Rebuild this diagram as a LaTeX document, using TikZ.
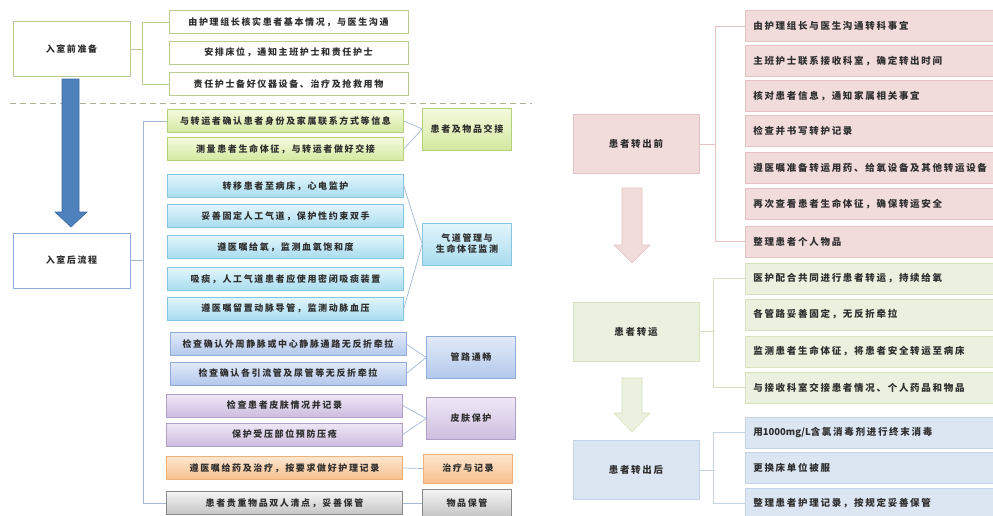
\documentclass[tikz,border=0pt]{standalone}
\usepackage{fontspec}
\newfontfamily\cjk[LetterSpace=18]{Noto Sans CJK SC}
\newfontfamily\cjkn{Noto Sans CJK SC}

% цвета
\definecolor{txtgray}{HTML}{2E2E2E}
\definecolor{olivebd}{HTML}{B9CD93}
\definecolor{dashgray}{HTML}{A9B59A}
\definecolor{arrowblue}{HTML}{4F81BD}
\definecolor{arrowbd}{HTML}{3C6AA5}
\definecolor{postbd}{HTML}{8EAAD6}
\definecolor{linkblue}{HTML}{A4B8D6}
\definecolor{pinkfill}{HTML}{F2DCDB}
\definecolor{pinkbd}{HTML}{E5C3C2}
\definecolor{greenfill}{HTML}{EBF1DE}
\definecolor{greenbd}{HTML}{D6E2BD}
\definecolor{bluefill}{HTML}{DCE6F2}
\definecolor{bluebd}{HTML}{C3D3E8}
\definecolor{gAbd}{HTML}{B5D07C}
\definecolor{gAtop}{HTML}{F4FADF}
\definecolor{gAbot}{HTML}{D4E9A0}
\definecolor{gBbd}{HTML}{86C5DD}
\definecolor{gBtop}{HTML}{E3F5FC}
\definecolor{gBbot}{HTML}{A8DCEF}
\definecolor{gCbd}{HTML}{92ACD9}
\definecolor{gCtop}{HTML}{E2EAF8}
\definecolor{gCbot}{HTML}{B3C8EC}
\definecolor{gDbd}{HTML}{B09FC8}
\definecolor{gDtop}{HTML}{EFE7F5}
\definecolor{gDbot}{HTML}{CDBDE0}
\definecolor{gEbd}{HTML}{F0B07A}
\definecolor{gEtop}{HTML}{FDE6CF}
\definecolor{gEbot}{HTML}{F8C08E}
\definecolor{gFbd}{HTML}{8A8A8A}
\definecolor{gFtop}{HTML}{F5F5F5}
\definecolor{gFbot}{HTML}{C4C4C4}

\tikzset{
  txt/.style={font=\cjk\bfseries\fontsize{9}{11}\selectfont, text=txtgray},
  bigbox/.style={txt, fill=white, line width=0.9pt, minimum width=117pt, minimum height=55pt, inner sep=0pt},
  prebox/.style={txt, draw=olivebd, fill=white, line width=0.9pt, minimum width=239pt, minimum height=23pt, inner sep=0pt},
  item/.style={txt, line width=0.6pt, minimum width=236pt, minimum height=23pt, inner sep=0pt},
  cat/.style={txt, line width=0.6pt, minimum width=89pt, minimum height=42pt, inner sep=0pt, align=center},
  grpA/.style={draw=gAbd, top color=gAtop, bottom color=gAbot},
  grpB/.style={draw=gBbd, top color=gBtop, bottom color=gBbot},
  grpC/.style={draw=gCbd, top color=gCtop, bottom color=gCbot},
  grpD/.style={draw=gDbd, top color=gDtop, bottom color=gDbot},
  grpE/.style={draw=gEbd, top color=gEtop, bottom color=gEbot},
  grpF/.style={draw=gFbd, top color=gFtop, bottom color=gFbot},
  link/.style={draw=linkblue, line width=0.7pt},
  brace/.style={line width=0.9pt},
  stage/.style={txt, font=\cjk\bfseries\fontsize{9.5}{11}\selectfont, line width=0.6pt, minimum width=126pt, minimum height=59pt, inner sep=0pt},
  ritem/.style={txt, font=\cjk\bfseries\fontsize{9.5}{11}\selectfont, line width=0.6pt, anchor=west, text width=235pt, align=left, inner xsep=8pt, inner ysep=0pt, minimum height=31pt},
}

\begin{document}
\begin{tikzpicture}[x=1pt,y=-1pt]
  \clip (0,0) rectangle (993,515);

  % Подготовка перед поступлением
  \node[bigbox, draw=olivebd] (pre) at (71.5,49) {入室前准备};
  \node[prebox] (pre1) at (288.5,22) {由护理组长核实患者基本情况，与医生沟通};
  \node[prebox] (pre2) at (288.5,52.5) {安排床位，通知主班护士和责任护士};
  \node[prebox] (pre3) at (288.5,84) {责任护士备好仪器设备、治疗及抢救用物};
  \draw[brace, draw=olivebd] (pre1.west) -- ++(-26,0) |- (pre3.west);
  \draw[brace, draw=olivebd] (pre.east) -- ++(13,0);

  % Пунктирная граница и синяя стрелка
  \draw[dashgray, line width=0.9pt, dash pattern=on 6pt off 4pt] (10,103) -- (532,103);
  \draw[fill=arrowblue, draw=arrowbd, line width=0.6pt]
    (62,79) -- (79,79) -- (79,212) -- (87,212) -- (71,227) -- (55,212) -- (62,212) -- cycle;

  % После поступления
  \node[bigbox, draw=postbd] (post) at (71.5,260.5) {入室后流程};

  \node[item, grpA] (a1) at (285.5,121) {与转运者确认患者身份及家属联系方式等信息};
  \node[item, grpA] (a2) at (285.5,149) {测量患者生命体征，与转运者做好交接};
  \node[cat, grpA] (ga) at (467,129) {患者及物品交接};

  \node[item, grpB] (b1) at (285.5,186) {转移患者至病床，心电监护};
  \node[item, grpB] (b2) at (285.5,216) {妥善固定人工气道，保护性约束双手};
  \node[item, grpB] (b3) at (285.5,247) {遵医嘱给氧，监测血氧饱和度};
  \node[item, grpB] (b4) at (285.5,279) {吸痰，人工气道患者应使用密闭吸痰装置};
  \node[item, grpB] (b5) at (285.5,308.5) {遵医嘱留置动脉导管，监测动脉血压};
  \node[cat, grpB] (gb) at (467,244) {气道管理与\\生命体征监测};

  \node[item, grpC] (c1) at (288,344) {检查确认外周静脉或中心静脉通路无反折牵拉};
  \node[item, grpC] (c2) at (288,373.5) {检查确认各引流管及尿管等无反折牵拉};
  \node[cat, grpC] (gc) at (471,357.5) {管路通畅};

  \node[item, grpD] (d1) at (284.5,405.5) {检查患者皮肤情况并记录};
  \node[item, grpD] (d2) at (284.5,434.5) {保护受压部位预防压疮};
  \node[cat, grpD] (gd) at (471,418.5) {皮肤保护};

  \node[item, grpE] (e1) at (284.5,468) {遵医嘱给药及治疗，按要求做好护理记录};
  \node[cat, grpE, minimum height=29pt] (ge) at (468,468.5) {治疗与记录};

  \node[item, grpF] (f1) at (284.5,503) {患者贵重物品双人清点，妥善保管};
  \node[cat, grpF, minimum height=28pt] (gf) at (467,503) {物品保管};

  % Связи слева
  \draw[link] (a1.west) -- ++(-24,0) |- (f1.west);
  \draw[link] (post.east) -- ++(13,0);
  \draw[link] (a1.east) -- (ga.west);
  \draw[link] (a2.east) -- (ga.west);
  \draw[link] (b1.east) -- (gb.west);
  \draw[link] (b5.east) -- (gb.west);
  \draw[link] (c1.east) -- (gc.west);
  \draw[link] (c2.east) -- (gc.west);
  \draw[link] (d1.east) -- (gd.west);
  \draw[link] (d2.east) -- (gd.west);
  \draw[link] (e1.east) -- (ge.west);
  \draw[link] (f1.east) -- (gf.west);

  % Перевод: до
  \node[stage, fill=pinkfill, draw=pinkbd] (out) at (636,144) {患者转出前};
  \node[ritem, fill=pinkfill, draw=pinkbd] (o1) at (745,26) {由护理组长与医生沟通转科事宜};
  \node[ritem, fill=pinkfill, draw=pinkbd] (o2) at (745,61) {主班护士联系接收科室，确定转出时间};
  \node[ritem, fill=pinkfill, draw=pinkbd] (o3) at (745,96) {核对患者信息，通知家属相关事宜};
  \node[ritem, fill=pinkfill, draw=pinkbd] (o4) at (745,131) {检查并书写转护记录};
  \node[ritem, fill=pinkfill, draw=pinkbd] (o5) at (745,167.5) {遵医嘱准备转运用药、给氧设备及其他转运设备};
  \node[ritem, fill=pinkfill, draw=pinkbd] (o6) at (745,204) {再次查看患者生命体征，确保转运安全};
  \node[ritem, fill=pinkfill, draw=pinkbd] (o7) at (745,241.5) {整理患者个人物品};
  \draw[brace, draw=pinkbd] (o1.west) -- ++(-30,0) |- (o7.west);
  \draw[brace, draw=pinkbd] (out.east) -- ++(16,0);
  \draw[fill=pinkfill, draw=pinkbd, line width=0.6pt]
    (622,188) -- (642,188) -- (642,245) -- (650,245) -- (632,263) -- (614,245) -- (622,245) -- cycle;

  % Перевод: транспортировка
  \node[stage, fill=greenfill, draw=greenbd] (trans) at (636,331.5) {患者转运};
  \node[ritem, fill=greenfill, draw=greenbd] (t1) at (745,278.5) {医护配合共同进行患者转运，持续给氧};
  \node[ritem, fill=greenfill, draw=greenbd] (t2) at (745,314.5) {各管路妥善固定，无反折牵拉};
  \node[ritem, fill=greenfill, draw=greenbd] (t3) at (745,351.5) {监测患者生命体征，将患者安全转运至病床};
  \node[ritem, fill=greenfill, draw=greenbd] (t4) at (745,387.5) {与接收科室交接患者情况、个人药品和物品};
  \draw[brace, draw=greenbd] (t1.west) -- ++(-32,0) |- (t4.west);
  \draw[brace, draw=greenbd] (trans.east) -- ++(16,0);
  \draw[fill=greenfill, draw=greenbd, line width=0.6pt]
    (622,378) -- (642,378) -- (642,413) -- (650,413) -- (632,432) -- (614,413) -- (622,413) -- cycle;

  % Перевод: после
  \node[stage, fill=bluefill, draw=bluebd] (after) at (636,470) {患者转出后};
  \node[ritem, fill=bluefill, draw=bluebd] (r1) at (745,432.5) {用{\cjkn\bfseries 1000mg/L}含氯消毒剂进行终末消毒};
  \node[ritem, fill=bluefill, draw=bluebd] (r2) at (745,467.5) {更换床单位被服};
  \node[ritem, fill=bluefill, draw=bluebd] (r3) at (745,503.5) {整理患者护理记录，按规定妥善保管};
  \draw[brace, draw=bluebd] (r1.west) -- ++(-32,0) |- (r3.west);
  \draw[brace, draw=bluebd] (after.east) -- ++(16,0);
\end{tikzpicture}
\end{document}
